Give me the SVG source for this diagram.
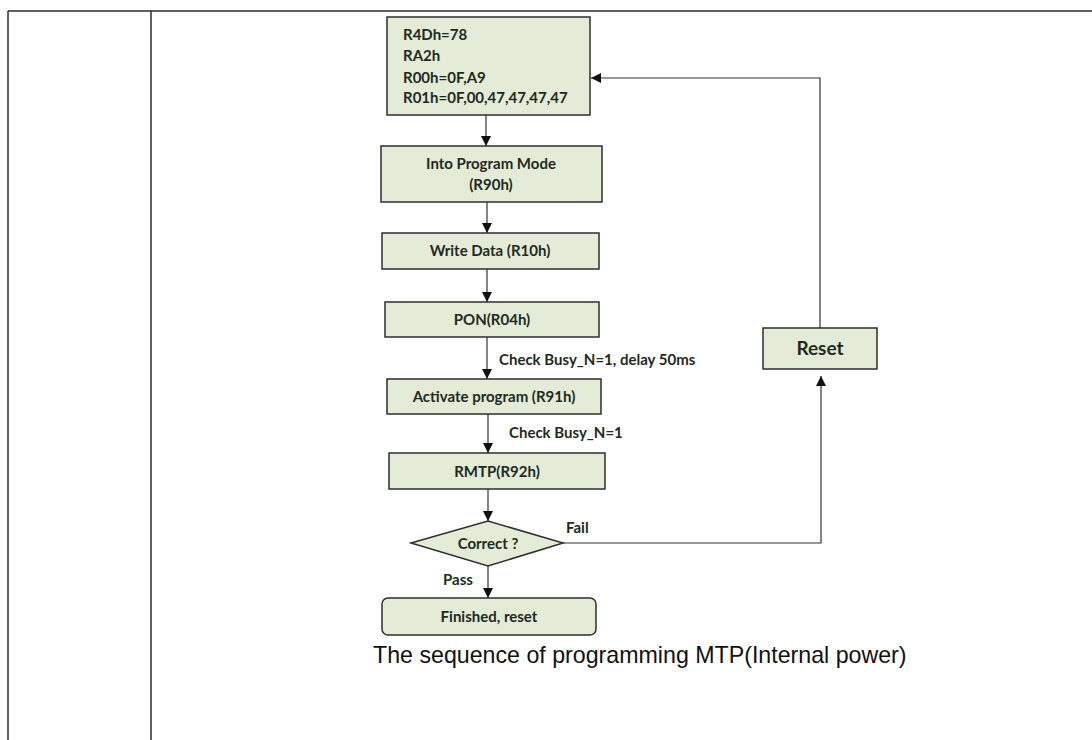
<svg xmlns="http://www.w3.org/2000/svg" width="1092" height="740" viewBox="0 0 1092 740">
<style>
.frame{stroke:#2b2b2b;stroke-width:1.5;fill:none}
.box{fill:#e4ecd8;stroke:#2e2e2e;stroke-width:1.5}
.t{font-family:Lato,"Open Sans",sans-serif;font-weight:bold;font-size:15px;fill:#1e2a1e}
.c{text-anchor:middle}
.lbl{font-family:Lato,"Open Sans",sans-serif;font-weight:bold;font-size:15px;fill:#1e2a1e}
.conn{stroke:#333;stroke-width:1.2;fill:none}
.cap{font-family:"Liberation Sans",Arial,sans-serif;font-size:23.2px;fill:#111}
</style>
<defs>
<marker id="ah" viewBox="0 0 10 10" refX="10" refY="5" markerWidth="10" markerHeight="10" markerUnits="userSpaceOnUse" orient="auto">
<path d="M0,0 L10,5 L0,10 z" fill="#111"/>
</marker>
</defs>
<rect width="1092" height="740" fill="#fff"/>
<g id="table">
<line class="frame" x1="8" y1="11" x2="1092" y2="11"/>
<line class="frame" x1="8" y1="11" x2="8" y2="740"/>
<line class="frame" x1="151" y1="11" x2="151" y2="740"/>
</g>
<g id="connectors">
<line class="conn" x1="486" y1="115" x2="486" y2="146" marker-end="url(#ah)"/>
<line class="conn" x1="487" y1="202" x2="487" y2="233" marker-end="url(#ah)"/>
<line class="conn" x1="487" y1="269" x2="487" y2="302" marker-end="url(#ah)"/>
<line class="conn" x1="487" y1="337" x2="487" y2="379" marker-end="url(#ah)"/>
<line class="conn" x1="488" y1="414" x2="488" y2="453" marker-end="url(#ah)"/>
<line class="conn" x1="488" y1="489" x2="488" y2="521" marker-end="url(#ah)"/>
<line class="conn" x1="488" y1="566" x2="488" y2="598" marker-end="url(#ah)"/>
<polyline class="conn" points="563,543 821,543 821,376" marker-end="url(#ah)"/>
<polyline class="conn" points="820,328 820,78 591,78" marker-end="url(#ah)"/>
<text class="lbl" x="499" y="365">Check Busy_N=1, delay 50ms</text>
<text class="lbl" x="509" y="438">Check Busy_N=1</text>
<text class="lbl" x="566" y="533">Fail</text>
<text class="lbl" x="443" y="585">Pass</text>
</g>
<g id="init">
<rect class="box" x="387" y="17" width="203" height="98"/>
<text class="t" x="403" y="40">R4Dh=78</text>
<text class="t" x="403" y="61">RA2h</text>
<text class="t" x="403" y="83">R00h=0F,A9</text>
<text class="t" x="403" y="103">R01h=0F,00,47,47,47,47</text>
</g>
<g id="program-mode">
<rect class="box" x="381" y="146" width="221" height="56"/>
<text class="t c" x="491" y="169">Into Program Mode</text>
<text class="t c" x="491" y="190">(R90h)</text>
</g>
<g id="write-data">
<rect class="box" x="382" y="233" width="217" height="36"/>
<text class="t c" x="490" y="256">Write Data (R10h)</text>
</g>
<g id="pon">
<rect class="box" x="385" y="302" width="214" height="35"/>
<text class="t c" x="492" y="325">PON(R04h)</text>
</g>
<g id="activate">
<rect class="box" x="387" y="379" width="214" height="35"/>
<text class="t c" x="494" y="402">Activate program (R91h)</text>
</g>
<g id="rmtp">
<rect class="box" x="389" y="453" width="216" height="36"/>
<text class="t c" x="497" y="477">RMTP(R92h)</text>
</g>
<g id="correct">
<polygon class="box" points="411,543 488,521 563,543 488,566"/>
<text class="t c" x="488" y="549">Correct ?</text>
</g>
<g id="finished">
<rect class="box" x="382" y="598" width="214" height="37" rx="6"/>
<text class="t c" x="489" y="622">Finished, reset</text>
</g>
<g id="reset">
<rect class="box" x="763" y="328" width="114" height="41"/>
<text class="t c" x="820" y="355" style="font-size:19px">Reset</text>
</g>
<text class="cap" x="373" y="663">The sequence of programming MTP(Internal power)</text>
</svg>
